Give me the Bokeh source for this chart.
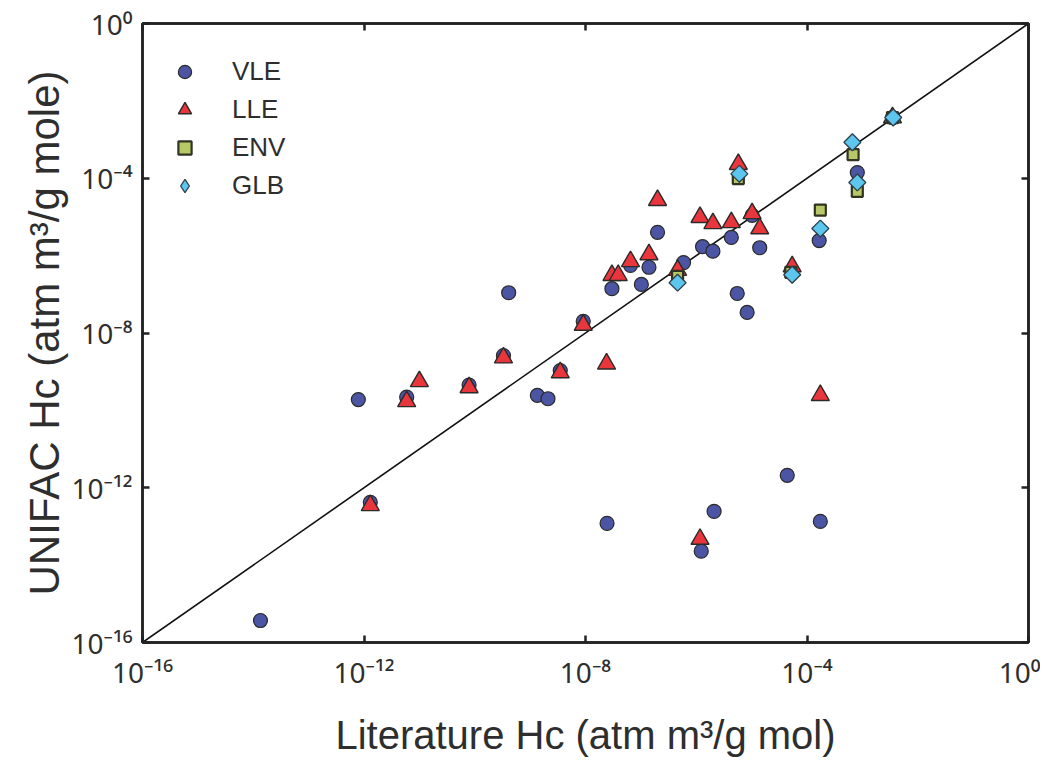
import math
from bokeh.plotting import figure
from bokeh.models import (Range1d, FixedTicker, CustomJSTickFormatter, LogAxis,
                          Legend, LegendItem)
from bokeh.embed import file_html
from bokeh.resources import INLINE

# ---------------- data ----------------
axis_limits = [1e-16, 1e0]
tick_values = [1e-16, 1e-12, 1e-8, 1e-4, 1e0]
tick_exponents = ["-16", "-12", "-8", "-4", "0"]

vle_lit = [1.35e-14, 7.9e-13, 1.3e-12, 5.9e-12, 7.9e-11, 3.3e-10, 4.1e-10, 1.35e-9,
           2.1e-9, 3.5e-9, 9.1e-9, 3.0e-8, 1.02e-7, 1.4e-7, 2.0e-7, 5.9e-7, 1.3e-6,
           2.0e-6, 4.3e-6, 1.4e-5, 5.5e-6, 8.3e-6, 1.66e-4, 8.1e-4, 3.5e-3, 2.45e-8,
           1.23e-6, 2.1e-6, 4.4e-5, 1.74e-4, 6.5e-8, 1.02e-5]
vle_unifac = [3.7e-16, 1.9e-10, 4.2e-13, 2.2e-10, 4.5e-10, 2.6e-9, 1.1e-7, 2.45e-10,
              2.0e-10, 1.07e-9, 2.0e-8, 1.4e-7, 1.8e-7, 5.0e-7, 4.0e-6, 6.6e-7, 1.7e-6,
              1.3e-6, 2.95e-6, 1.6e-6, 1.05e-7, 3.4e-8, 2.45e-6, 1.4e-4, 3.7e-3, 1.2e-13,
              2.3e-14, 2.45e-13, 2.1e-12, 1.35e-13, 5.6e-7, 1.1e-5]

lle_lit = [1.3e-12, 5.9e-12, 1.0e-11, 7.9e-11, 3.3e-10, 3.5e-9, 9.1e-9, 2.4e-8, 3.0e-8,
           3.9e-8, 6.5e-8, 1.4e-7, 2.0e-7, 4.6e-7, 1.17e-6, 2.0e-6, 4.3e-6, 5.75e-6,
           1.02e-5, 1.4e-5, 5.4e-5, 1.74e-4, 1.17e-6, 3.5e-3]
lle_unifac = [3.5e-13, 1.7e-10, 5.6e-10, 3.9e-10, 2.3e-9, 9.5e-10, 1.6e-8, 1.6e-9, 3.1e-7,
              3.1e-7, 7.1e-7, 1.07e-6, 2.7e-5, 4.2e-7, 9.8e-6, 6.8e-6, 7.2e-6, 2.3e-4,
              1.23e-5, 5.0e-6, 5.2e-7, 2.45e-10, 4.7e-14, 3.7e-3]

env_lit = [4.6e-7, 5.75e-6, 5.1e-5, 1.74e-4, 6.8e-4, 8.1e-4, 3.5e-3]
env_unifac = [2.9e-7, 9.8e-5, 3.7e-7, 1.5e-5, 4.1e-4, 4.6e-5, 3.7e-3]

glb_lit = [4.6e-7, 6.0e-6, 5.4e-5, 1.74e-4, 6.6e-4, 8.1e-4, 3.6e-3]
glb_unifac = [2.0e-7, 1.3e-4, 3.2e-7, 5.0e-6, 8.5e-4, 7.8e-5, 3.7e-3]

x_title = "Literature Hc (atm m³/g mol)"
y_title = "UNIFAC Hc (atm m³/g mole)"

SUP = str.maketrans("-0123456789", "⁻⁰¹²³⁴⁵⁶⁷⁸⁹")
tick_labels = {v: "10" + e.translate(SUP) for v, e in zip(tick_values, tick_exponents)}

# ---------------- styling ----------------
FONT = "Liberation Sans"
TICK_FONT = "Noto Sans"
TXT = "#2e2e2e"
AX = "#222222"
EDGE = "#2a2a2a"

p = figure(width=1040, height=760, x_axis_type="log", y_axis_type="log",
           x_range=Range1d(*axis_limits), y_range=Range1d(*axis_limits),
           output_backend="svg", toolbar_location=None,
           min_border_left=142, min_border_right=12, min_border_top=23,
           min_border_bottom=118)
p.background_fill_color = "white"
p.border_fill_color = "white"
p.outline_line_color = AX
p.outline_line_width = 2.5
p.xgrid.visible = False
p.ygrid.visible = False

blank = CustomJSTickFormatter(code="return ''")

for ax in (p.xaxis[0], p.yaxis[0]):
    ax.ticker = FixedTicker(ticks=tick_values)
    ax.major_label_overrides = tick_labels
    ax.major_label_text_font = TICK_FONT
    ax.major_label_text_font_size = "28px"
    ax.major_label_text_color = TXT
    ax.major_tick_in = 7
    ax.major_tick_out = 0
    ax.minor_tick_in = 0
    ax.minor_tick_out = 0
    ax.major_tick_line_width = 2.5
    ax.major_tick_line_color = AX
    ax.axis_line_width = 2.5
    ax.axis_line_color = AX
    ax.axis_label_text_font = FONT
    ax.axis_label_text_font_style = "normal"
    ax.axis_label_text_color = TXT

p.xaxis[0].major_label_standoff = 10
p.xaxis[0].axis_label = x_title
p.xaxis[0].axis_label_text_font_size = "40px"
p.xaxis[0].axis_label_standoff = 19
p.yaxis[0].major_label_standoff = 10
p.yaxis[0].axis_label = y_title
p.yaxis[0].axis_label_text_font_size = "42px"
p.yaxis[0].axis_label_standoff = 0

for side in ("above", "right"):
    ax = LogAxis(ticker=FixedTicker(ticks=tick_values), formatter=blank,
                 major_label_text_font_size="1px", major_label_standoff=0,
                 major_tick_in=7, major_tick_out=0, minor_tick_in=0, minor_tick_out=0,
                 major_tick_line_width=2.5, major_tick_line_color=AX,
                 axis_line_width=2.5, axis_line_color=AX)
    p.add_layout(ax, side)

# 1:1 line
p.line(axis_limits, axis_limits, line_color="#111111", line_width=1.6)

# series
r_vle = p.scatter(vle_lit, vle_unifac, marker="circle", size=14,
                  fill_color="#4b55a3", line_color=EDGE, line_width=1.2)
r_lle = p.scatter(lle_lit, lle_unifac, marker="triangle", size=18,
                  fill_color="#e8363c", line_color=EDGE, line_width=1.4)
r_env = p.scatter(env_lit, env_unifac, marker="square", size=11,
                  fill_color="#b7c866", line_color="#333322", line_width=2.2)
glb_style = dict(fill_color="#5cc6ee", line_color="#2f3f4a", line_width=1.3)
# diamond-shaped key for the legend, lying fully under the GLB marks
r_glb_key = p.scatter(glb_lit, glb_unifac, marker="diamond", size=16, **glb_style)
r_glb = p.scatter(glb_lit, glb_unifac, marker="square", angle=math.pi / 4, size=12,
                  **glb_style)

legend = Legend(items=[LegendItem(label="VLE", renderers=[r_vle]),
                       LegendItem(label="LLE", renderers=[r_lle]),
                       LegendItem(label="ENV", renderers=[r_env]),
                       LegendItem(label="GLB", renderers=[r_glb_key])],
                location=(26, 440), orientation="vertical",
                glyph_width=33, glyph_height=33, label_height=33, label_width=40,
                spacing=5, padding=10, margin=0, label_standoff=31,
                label_text_font=FONT, label_text_font_size="26px",
                label_text_color=TXT, border_line_color=None,
                background_fill_alpha=0)
p.add_layout(legend)

open("out.html", "w").write(file_html(p, INLINE))
